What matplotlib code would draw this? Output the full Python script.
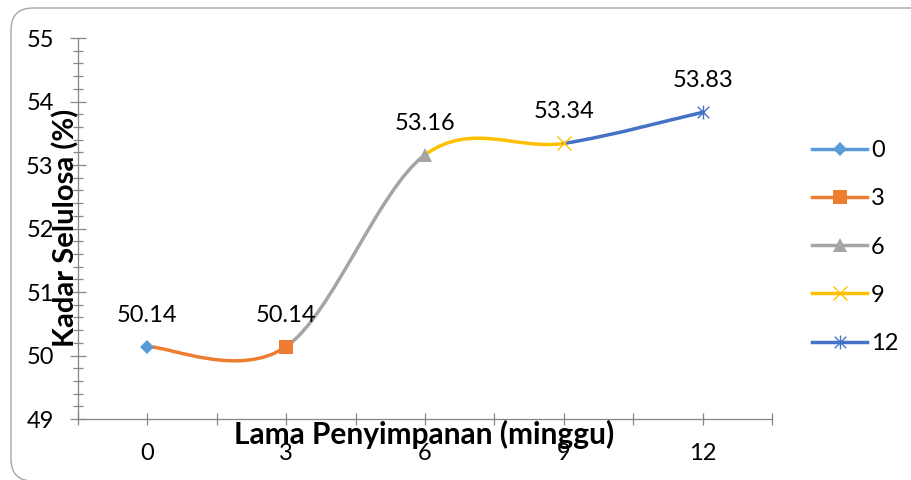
import numpy as np
import matplotlib
matplotlib.use("Agg")
import matplotlib.pyplot as plt
from matplotlib.path import Path
from matplotlib.patches import PathPatch, FancyBboxPatch
from matplotlib.lines import Line2D
from matplotlib.transforms import IdentityTransform

# Storage time (weeks) and cellulose content (%)
weeks = [0, 3, 6, 9, 12]
cellulose = [50.14, 50.14, 53.16, 53.34, 53.83]
week_labels = ["0", "3", "6", "9", "12"]
y_tick_values = [49, 50, 51, 52, 53, 54, 55]
y_tick_labels = ["49", "50", "51", "52", "53", "54", "55"]

point_colors = ["#5B9BD5", "#ED7D31", "#A5A5A5", "#FFC000", "#4472C4"]

# Excel-style asterisk: an x with a vertical bar through it
asterisk = Path(
    [(-0.5, -0.5), (0.5, 0.5), (-0.5, 0.5), (0.5, -0.5), (0, -0.6), (0, 0.6)],
    [Path.MOVETO, Path.LINETO, Path.MOVETO, Path.LINETO, Path.MOVETO, Path.LINETO],
)
marker_styles = [
    dict(marker="D", markersize=7.6, mew=0),
    dict(marker="s", markersize=10, mew=0),
    dict(marker="^", markersize=10.5, mew=0),
    dict(marker="x", markersize=10.5, mew=1.0),
    dict(marker=asterisk, markersize=10, mew=1.0),
]

plt.rcParams["font.family"] = ["Lato", "DejaVu Sans"]
FS = 17
AX_GRAY = "#868686"
LW = 2.5

W, H = 911, 480
fig = plt.figure(figsize=(W / 100, H / 100), dpi=100)
ax = fig.add_axes([78 / W, 1 - 419 / H, (772 - 78) / W, (419 - 38) / H])

ax.set_xlim(-1.5, 13.5)
ax.set_ylim(49, 55)

# Smoothed line (cardinal Bezier through the points), each segment coloured
# by the point it leads to
pts = np.column_stack([weeks, cellulose]).astype(float)
n = len(pts)
for i in range(n - 1):
    p0, p1 = pts[i], pts[i + 1]
    prev = pts[i - 1] if i > 0 else p0
    nxt = pts[i + 2] if i + 2 < n else p1
    c1 = p0 + (p1 - prev) / 6.0
    c2 = p1 - (nxt - p0) / 6.0
    seg = Path([p0, c1, c2, p1], [Path.MOVETO, Path.CURVE4, Path.CURVE4, Path.CURVE4])
    ax.add_patch(PathPatch(seg, transform=ax.transData, facecolor="none",
                           edgecolor=point_colors[i + 1], lw=LW,
                           capstyle="round", zorder=2))

handles = []
for x, v, c, ms in zip(weeks, cellulose, point_colors, marker_styles):
    ax.plot([x], [v], linestyle="none", color=c, markerfacecolor=c,
            markeredgecolor=c, zorder=3, **ms)
    ax.annotate(f"{v:.2f}", (x, v), xytext=(0, 18), textcoords="offset points",
                ha="center", va="baseline", fontsize=FS, color="#000000")
    handles.append(Line2D([], [], color=c, lw=LW, markerfacecolor=c,
                          markeredgecolor=c, **ms))

# Axes styling
for side in ("top", "right"):
    ax.spines[side].set_visible(False)
for side in ("left", "bottom"):
    ax.spines[side].set_color(AX_GRAY)
    ax.spines[side].set_linewidth(0.9)

ax.set_xticks(weeks)
ax.set_xticklabels(week_labels)
ax.set_xticks(np.arange(-1.5, 13.6, 3.0), minor=True)
ax.set_yticks(y_tick_values)
ax.set_yticklabels(y_tick_labels)
ax.set_yticks(np.arange(49, 55.01, 0.2), minor=True)

ax.tick_params(axis="x", which="both", direction="inout", length=8, width=0.9,
               color=AX_GRAY, labelsize=FS, pad=13)
ax.tick_params(axis="y", which="major", direction="inout", length=11, width=0.9,
               color=AX_GRAY, labelsize=FS, pad=12)
ax.tick_params(axis="y", which="minor", direction="inout", length=6.5, width=0.9,
               color=AX_GRAY)

# Axis titles
fig.text(424 / W, 1 - 444 / H, "Lama Penyimpanan (minggu)", ha="center",
         va="baseline", fontsize=21.5, fontweight="bold")
fig.text(66 / W, 1 - 228 / H, "Kadar Selulosa (%)", ha="center", va="center",
         rotation=90, fontsize=21, fontweight="bold")

ax.legend(handles, week_labels, loc="center left",
          bbox_to_anchor=(812 / W, 1 - 247 / H), bbox_transform=fig.transFigure,
          frameon=False, fontsize=FS, handlelength=2.35, handletextpad=0.15,
          labelspacing=1.15, borderpad=0, borderaxespad=0)

# Rounded chart-area border
fig.add_artist(FancyBboxPatch((11, -1), 930, 473, boxstyle="round,pad=0,rounding_size=22",
                              transform=IdentityTransform(), facecolor="none",
                              edgecolor="#A6A6A6", lw=1.0))

fig.savefig("out.png", dpi=100)
